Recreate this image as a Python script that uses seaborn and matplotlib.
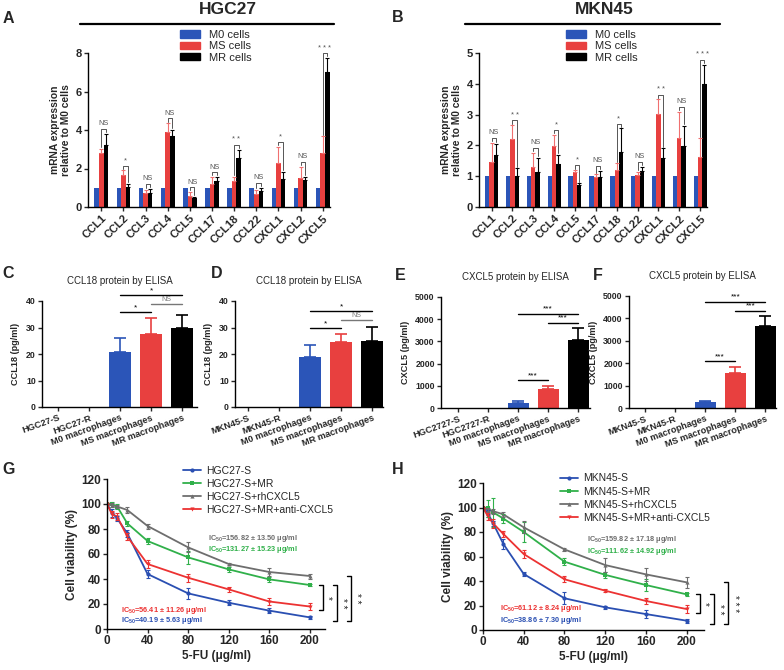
# chimiokines_macrophages.py
# Figure composite : expression mRNA, ELISA CCL18/CXCL5, viabilite 5-FU

import numpy as np
import pandas as pd
import matplotlib
matplotlib.use('Agg')
import matplotlib.pyplot as plt
import matplotlib.patches as mpatches
import seaborn as sns

W, H = 784, 670

BLEU  = '#2B55B8'
ROUGE = '#E8403F'
NOIR  = '#000000'
GRIS_SIG = '#555555'

# ---------------- donnees A / B : mRNA ----------------
genes = ['CCL1', 'CCL2', 'CCL3', 'CCL4', 'CCL5', 'CCL17', 'CCL18', 'CCL22', 'CXCL1', 'CXCL2', 'CXCL5']
m0_cells = [1.0, 1.0, 1.0, 1.0, 1.0, 1.0, 1.0, 1.0, 1.0, 1.0, 1.0]

hgc_ms     = [2.80, 1.65, 0.73, 3.92, 0.57, 1.18, 1.33, 0.70, 2.30, 1.52, 2.80]
hgc_ms_err = [0.23, 0.25, 0.17, 0.44, 0.21, 0.38, 0.23, 0.20, 0.82, 0.56, 0.87]
hgc_mr     = [3.20, 1.02, 0.75, 3.67, 0.45, 1.33, 2.56, 0.81, 1.47, 1.39, 7.00]
hgc_mr_err = [0.60, 0.18, 0.20, 0.33, 0.07, 0.23, 0.42, 0.19, 0.35, 0.17, 0.74]
hgc_sig    = ['NS', '*', 'NS', 'NS', 'NS', 'NS', '**', 'NS', '*', 'NS', '***']

mkn_ms     = [1.47, 2.20, 1.30, 1.98, 1.13, 0.98, 1.20, 1.03, 3.02, 2.23, 1.63]
mkn_ms_err = [0.62, 0.46, 0.46, 0.36, 0.07, 0.09, 0.22, 0.12, 0.48, 0.87, 0.60]
mkn_mr     = [1.69, 1.01, 1.15, 1.39, 0.71, 0.96, 1.80, 1.17, 1.58, 1.98, 4.00]
mkn_mr_err = [0.36, 0.25, 0.45, 0.30, 0.06, 0.22, 0.75, 0.14, 0.32, 0.65, 0.62]
mkn_sig    = ['NS', '**', 'NS', '*', '*', 'NS', '*', 'NS', '**', 'NS', '***']

# ---------------- donnees C-F : ELISA ----------------
cats_hgc   = ['HGC27-S', 'HGC27-R', 'M0 macrophages', 'MS macrophages', 'MR macrophages']
cats_hgc27 = ['HGC2727-S', 'HGC2727-R', 'M0 macrophages', 'MS macrophages', 'MR macrophages']
cats_mkn   = ['MKN45-S', 'MKN45-R', 'M0 macrophages', 'MS macrophages', 'MR macrophages']

ccl18_hgc     = [0, 0, 20.6, 27.5, 29.9]
ccl18_hgc_err = [0, 0, 5.3, 6.2, 5.0]
ccl18_mkn     = [0, 0, 18.7, 24.4, 25.0]
ccl18_mkn_err = [0, 0, 4.8, 3.3, 5.2]
cxcl5_hgc     = [0, 0, 230, 840, 3050]
cxcl5_hgc_err = [0, 0, 70, 150, 540]
cxcl5_mkn     = [0, 0, 260, 1570, 3660]
cxcl5_mkn_err = [0, 0, 60, 260, 430]

paires_ccl18 = [(2, 3, '*'), (3, 4, 'NS'), (2, 4, '*')]
paires_cxcl5 = [(2, 3, '***'), (3, 4, '***'), (2, 4, '***')]

# ---------------- donnees G / H : viabilite ----------------
doses = [0, 5, 10, 20, 40, 80, 120, 160, 200]

hgc_s       = [100, 93.0, 88.5, 76.5, 44.0, 28.5, 21.0, 14.7, 9.3]
hgc_s_err   = [0, 3.0, 2.0, 3.0, 3.0, 4.5, 2.0, 2.0, 1.0]
hgc_smr     = [100, 100.0, 98.0, 84.5, 70.4, 57.3, 47.7, 39.7, 35.2]
hgc_smr_err = [0, 2.0, 2.0, 2.0, 2.5, 5.0, 2.0, 2.0, 1.0]
hgc_rh      = [100, 99.0, 98.0, 95.2, 82.4, 65.3, 52.0, 45.6, 42.4]
hgc_rh_err  = [0, 1.5, 1.5, 2.5, 2.0, 4.0, 1.0, 3.0, 2.0]
hgc_anti    = [100, 91.7, 90.0, 74.0, 52.0, 41.0, 31.7, 22.0, 18.0]
hgc_anti_err = [0, 3.0, 3.0, 3.0, 3.5, 3.0, 2.0, 2.5, 2.5]

mkn_s       = [100, 95.0, 87.0, 70.2, 45.7, 25.9, 18.5, 13.0, 7.6]
mkn_s_err   = [0, 3.0, 2.0, 4.0, 2.0, 5.0, 1.5, 3.0, 1.5]
mkn_smr     = [100, 99.3, 96.0, 91.0, 80.0, 55.8, 45.0, 36.7, 29.1]
mkn_smr_err = [0, 7.0, 12.0, 4.0, 8.0, 3.0, 2.5, 5.0, 1.0]
mkn_rh      = [100, 98.0, 97.0, 94.4, 83.8, 65.8, 53.0, 45.4, 38.9]
mkn_rh_err  = [0, 1.5, 2.0, 2.0, 5.0, 1.5, 6.0, 5.0, 4.5]
mkn_anti    = [100, 92.5, 87.0, 78.4, 62.0, 41.4, 32.1, 23.7, 17.1]
mkn_anti_err = [0, 3.0, 4.0, 2.5, 3.0, 2.5, 1.0, 2.5, 3.0]

noms_hgc = ['HGC27-S', 'HGC27-S+MR', 'HGC27-S+rhCXCL5', 'HGC27-S+MR+anti-CXCL5']
noms_mkn = ['MKN45-S', 'MKN45-S+MR', 'MKN45-S+rhCXCL5', 'MKN45-S+MR+anti-CXCL5']
ic50_hgc = ['40.19 \u00b1 5.63', '131.27 \u00b1 15.23', '156.82 \u00b1 13.50', '56.41 \u00b1 11.26']
ic50_mkn = ['38.86 \u00b1 7.30', '111.62 \u00b1 14.92', '159.82 \u00b1 17.18', '61.12 \u00b1 8.24']
# comparaisons a 200 ug/ml : (serie haute, serie basse, label)
sig_hgc = [(1, 3, '*'), (1, 0, '**'), (2, 0, '**')]
sig_mkn = [(1, 3, '*'), (1, 0, '**'), (2, 0, '***')]

COUL_LIGNES = ['#2A4FB2', '#30B04A', '#6E6E6E', '#EC3232']
MARQUEURS   = ['o', 's', '^', 'v']


def ax_px(fig, left, top, right, bottom):
    return fig.add_axes([left / W, 1 - bottom / H, (right - left) / W, (bottom - top) / H])


def txt_px(fig, x, y, s, **kw):
    fig.text(x / W, 1 - y / H, s, **kw)


def style_axes(ax, taille):
    sns.despine(ax=ax)
    for sp in ('left', 'bottom'):
        ax.spines[sp].set_linewidth(1.0)
    ax.tick_params(width=1.0, length=3, labelsize=taille, pad=1.5)
    for lab in ax.get_xticklabels() + ax.get_yticklabels():
        lab.set_fontweight('bold')


def tracer_mrna(ax, ms, ms_err, mr, mr_err, sig, ymax, yticks):
    groupes = ['M0 cells', 'MS cells', 'MR cells']
    df = pd.DataFrame({
        'gene':   genes * 3,
        'groupe': np.repeat(groupes, len(genes)),
        'val':    m0_cells + ms + mr,
    })
    largeur = 0.62
    sns.barplot(data=df, x='gene', y='val', hue='groupe', palette=[BLEU, ROUGE, NOIR],
                errorbar=None, width=largeur, saturation=1, linewidth=0, legend=False, ax=ax)
    pas = largeur / 3
    x = np.arange(len(genes))
    zero = np.zeros(len(genes))
    ax.errorbar(x, ms, yerr=[zero, ms_err], fmt='none', ecolor='#F07070',
                elinewidth=0.8, capsize=1.2, capthick=0.8)
    ax.errorbar(x + pas, mr, yerr=[zero, mr_err], fmt='none', ecolor=NOIR,
                elinewidth=0.8, capsize=1.2, capthick=0.8)

    haut_ms = np.array(ms) + np.array(ms_err)
    haut_mr = np.array(mr) + np.array(mr_err)
    for i, s in enumerate(sig):
        yb = max(haut_ms[i], haut_mr[i]) + 0.03 * ymax
        ax.plot([x[i], x[i], x[i] + pas, x[i] + pas],
                [haut_ms[i] + 0.01 * ymax, yb, yb, haut_mr[i] + 0.01 * ymax],
                color=GRIS_SIG, lw=0.7, clip_on=False)
        label = s if s == 'NS' else ' '.join(s)
        ax.text(x[i] + pas / 2, yb + 0.012 * ymax, label, ha='center', va='bottom',
                fontsize=5.3, color=GRIS_SIG)

    ax.set_ylim(0, ymax)
    ax.set_yticks(yticks)
    ax.set_xlim(-0.6, len(genes) - 0.67)
    ax.set_xlabel('')
    ax.set_ylabel('mRNA expression\nrelative to M0 cells', fontsize=7.4, fontweight='bold', labelpad=3)
    style_axes(ax, 8)
    plt.setp(ax.get_xticklabels(), rotation=45, ha='right', rotation_mode='anchor')

    handles = [mpatches.Patch(color=c, label=g) for g, c in zip(groupes, [BLEU, ROUGE, NOIR])]
    ax.legend(handles=handles, loc='upper left', bbox_to_anchor=(0.38, 1.15), frameon=False,
              fontsize=8, handlelength=1.8, handleheight=0.6, labelspacing=0.12,
              handletextpad=0.8, borderpad=0, borderaxespad=0)


def tracer_elisa(ax, cats, vals, errs, paires, ymax, ystep, titre, ylabel, xlim):
    couleurs = [BLEU, BLEU, BLEU, ROUGE, NOIR]
    df = pd.DataFrame({'cat': cats, 'val': vals})
    sns.barplot(data=df, x='cat', y='val', hue='cat', palette=dict(zip(cats, couleurs)),
                errorbar=None, width=0.7, saturation=1, linewidth=0, legend=False, ax=ax)
    x = np.arange(len(cats))
    for i in range(len(cats)):
        if vals[i] > 0:
            ax.errorbar(x[i], vals[i], yerr=[[0], [errs[i]]], fmt='none', ecolor=couleurs[i],
                        elinewidth=1.2, capsize=4, capthick=1.2)

    hauts = np.array(vals) + np.array(errs)
    places = []
    for a, b, lab in paires:
        niveau = hauts[a:b + 1].max() + 0.05 * ymax
        for a2, b2, n2 in places:
            if a2 <= b and a <= b2:
                niveau = max(niveau, n2 + 0.08 * ymax)
        places.append((a, b, niveau))
        coul = '#777777' if lab == 'NS' else NOIR
        ax.plot([x[a], x[b]], [niveau, niveau], color=coul, lw=1.0, clip_on=False)
        ax.text((x[a] + x[b]) / 2, niveau + 0.01 * ymax, lab, ha='center', va='bottom',
                fontsize=5 if lab == 'NS' else 6, color=coul)

    ax.set_ylim(0, ymax)
    ax.set_yticks(np.arange(0, ymax + 1, ystep))
    ax.set_xlim(*xlim)
    ax.set_xlabel('')
    ax.set_ylabel(ylabel, fontsize=6.6, fontweight='bold', labelpad=4)
    ax.set_title(titre, fontsize=7, pad=12)
    style_axes(ax, 6.3)
    plt.setp(ax.get_xticklabels(), rotation=20, ha='right', rotation_mode='anchor', fontsize=6.6)


def tracer_viabilite(ax, series, erreurs, noms, ic50, sig, pos_ic50, leg_anchor, xmax):
    df = pd.DataFrame({
        'dose': doses * 4,
        'viab': sum(series, []),
        'groupe': np.repeat(noms, len(doses)),
    })
    sns.lineplot(data=df, x='dose', y='viab', hue='groupe', style='groupe',
                 palette=dict(zip(noms, COUL_LIGNES)), markers=dict(zip(noms, MARQUEURS)),
                 dashes=False, linewidth=1.3, markersize=3, markeredgewidth=0, ax=ax)
    for s, e, c in zip(series, erreurs, COUL_LIGNES):
        ax.errorbar(doses, s, yerr=e, fmt='none', ecolor=c, elinewidth=0.8, capsize=1.5, capthick=0.8)

    # textes IC50
    for k, (txt, (px, py)) in enumerate(zip(ic50, pos_ic50)):
        ax.text(px, py, r'IC$_{\mathrm{50}}$=' + txt + ' \u03bcg/ml', color=COUL_LIGNES[k],
                fontsize=5.3, fontweight='bold', ha='left', va='center')

    # crochets de significativite a la dose maximale
    dmax = doses[-1]
    for k, (hi, lo, lab) in enumerate(sig):
        xb = dmax + 13 + 14 * k
        yh = series[hi][-1]
        yl = series[lo][-1] - 3
        ax.plot([xb - 4, xb, xb, xb - 4], [yh, yh, yl, yl], color=NOIR, lw=1.0, clip_on=False)
        ax.text(xb + 5, (yh + yl) / 2, lab if len(lab) == 1 else ' '.join(lab),
                rotation=270, ha='center', va='center', fontsize=7)

    handles, labels = ax.get_legend_handles_labels()
    ax.legend(handles, labels, loc='upper left', bbox_to_anchor=leg_anchor, frameon=False,
              fontsize=7.5, handlelength=1.7, handletextpad=0.5, labelspacing=0.3,
              borderpad=0, borderaxespad=0)

    ax.set_xlim(0, xmax)
    ax.set_ylim(0, 120)
    ax.set_xticks([0, 40, 80, 120, 160, 200])
    ax.set_yticks([0, 20, 40, 60, 80, 100, 120])
    ax.set_xlabel('5-FU (\u03bcg/ml)', fontsize=8.5, fontweight='bold', labelpad=2)
    ax.set_ylabel('Cell viability (%)', fontsize=8.5, fontweight='bold', labelpad=2)
    style_axes(ax, 8.5)


def generer_figure():
    sns.set_style('ticks')
    plt.rcParams['font.family'] = ['Liberation Sans', 'DejaVu Sans']
    plt.rcParams['mathtext.fontset'] = 'custom'
    plt.rcParams['mathtext.rm'] = 'Liberation Sans:bold'
    plt.rcParams['axes.edgecolor'] = 'black'

    fig = plt.figure(figsize=(W / 100, H / 100), dpi=100)

    # A / B
    axA = ax_px(fig, 88, 53, 330, 207)
    tracer_mrna(axA, hgc_ms, hgc_ms_err, hgc_mr, hgc_mr_err, hgc_sig, 8, [0, 2, 4, 6, 8])
    axB = ax_px(fig, 479, 53, 707, 207)
    tracer_mrna(axB, mkn_ms, mkn_ms_err, mkn_mr, mkn_mr_err, mkn_sig, 5, [0, 1, 2, 3, 4, 5])

    txt_px(fig, 228, 9, 'HGC27', fontsize=12.5, fontweight='bold', ha='center', va='center')
    txt_px(fig, 604, 9, 'MKN45', fontsize=12.5, fontweight='bold', ha='center', va='center')
    for x0, x1 in [(80, 334), (465, 720)]:
        fig.add_artist(plt.Line2D([x0 / W, x1 / W], [1 - 24 / H, 1 - 24 / H], color=NOIR, lw=1.6))

    # C-F
    axC = ax_px(fig, 42, 301, 197, 407)
    tracer_elisa(axC, cats_hgc, ccl18_hgc, ccl18_hgc_err, paires_ccl18, 40, 10,
                 'CCL18 protein by ELISA', 'CCL18 (pg/ml)', (-0.53, 4.48))
    axD = ax_px(fig, 235, 301, 383, 407)
    tracer_elisa(axD, cats_mkn, ccl18_mkn, ccl18_mkn_err, paires_ccl18, 40, 10,
                 'CCL18 protein by ELISA', 'CCL18 (pg/ml)', (-0.42, 4.35))
    axE = ax_px(fig, 441, 297, 590, 408)
    tracer_elisa(axE, cats_hgc27, cxcl5_hgc, cxcl5_hgc_err, paires_cxcl5, 5000, 1000,
                 'CXCL5 protein by ELISA', 'CXCL5 (pg/ml)', (-0.58, 4.4))
    axF = ax_px(fig, 629, 296, 776, 408)
    tracer_elisa(axF, cats_mkn, cxcl5_mkn, cxcl5_mkn_err, paires_cxcl5, 5000, 1000,
                 'CXCL5 protein by ELISA', 'CXCL5 (pg/ml)', (-0.52, 4.35))

    # G / H
    axG = ax_px(fig, 107, 479, 325, 629)
    tracer_viabilite(axG, [hgc_s, hgc_smr, hgc_rh, hgc_anti],
                     [hgc_s_err, hgc_smr_err, hgc_rh_err, hgc_anti_err],
                     noms_hgc, ic50_hgc, sig_hgc,
                     [(13.6, 7.2), (100, 63.7), (100, 72.6), (13.6, 15.2)], (0.35, 1.09), 215)
    axH = ax_px(fig, 483, 483, 704, 630)
    tracer_viabilite(axH, [mkn_s, mkn_smr, mkn_rh, mkn_anti],
                     [mkn_s_err, mkn_smr_err, mkn_rh_err, mkn_anti_err],
                     noms_mkn, ic50_mkn, sig_mkn,
                     [(16.7, 7.5), (102, 64.0), (102, 73.5), (16.7, 17.5)], (0.348, 1.065), 217)

    # lettres des panneaux
    for lettre, x, y in [('A', 8.5, 18.5), ('B', 398, 18), ('C', 8, 274), ('D', 217, 274),
                         ('E', 400, 275), ('F', 598, 275), ('G', 9, 469), ('H', 398, 469)]:
        txt_px(fig, x, y, lettre, fontsize=11.5, fontweight='bold', ha='center', va='center')

    fig.savefig('out.png', dpi=100, facecolor='white')
    plt.close(fig)


if __name__ == '__main__':
    generer_figure()
